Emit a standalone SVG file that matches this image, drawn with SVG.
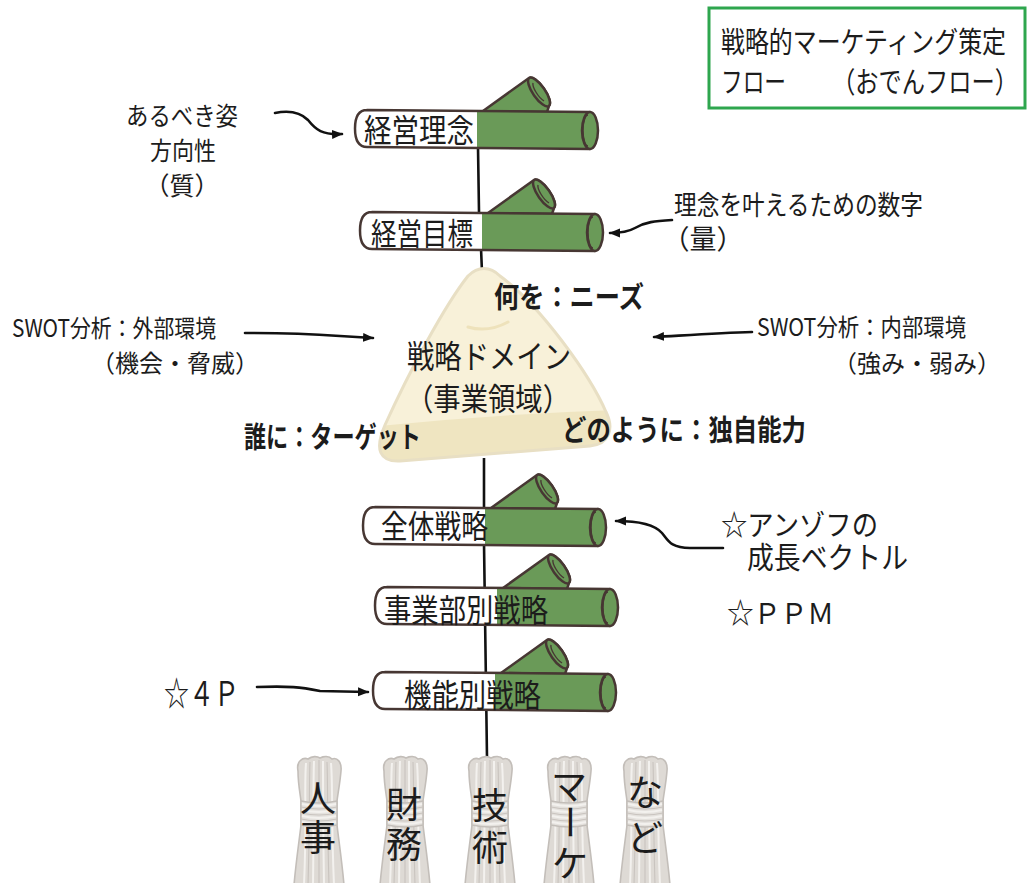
<svg xmlns="http://www.w3.org/2000/svg" width="1028" height="883" viewBox="0 0 1028 883">
  <style>
    .t { font-family: 'Noto Sans CJK JP', 'Noto Sans CJK SC', sans-serif; fill: #1c1c1c; }
    .b { font-weight: 700; }
    .ink { stroke: #473733; stroke-width: 2.5; stroke-linejoin: round; stroke-linecap: round; }
    .green { fill: #6a9a58; }
    .arrow { fill: none; stroke: #111; stroke-width: 2.6; stroke-linecap: round; marker-end: url(#ah); }
    .skewer { fill: none; stroke: #111; stroke-width: 2.6; }
    .rope { fill: #dedad5; stroke: #c3beb9; stroke-width: 1.6; }
    .strand { fill: none; stroke: #f3f1ee; stroke-width: 2; }
    .seam { fill: none; stroke: #c9c4bf; stroke-width: 1.1; }
  </style>
  <defs>
    <marker id="ah" markerWidth="12" markerHeight="10" refX="10" refY="5" orient="auto" markerUnits="userSpaceOnUse">
      <path d="M0,0.5 L11,5 L0,9.5 Z" fill="#111"/>
    </marker>

    <!-- skewered stick: white tip on the left, green body, short branch on top -->
    <g id="stick">
      <path class="green ink" d="M128,1 L174,-32 A6,17 -35 0 1 194,-4 L192,2 Z"/>
      <ellipse class="green ink" cx="184" cy="-18" rx="6" ry="17" transform="rotate(-35 184 -18)"/>
      <path d="M178,-27 A4,12 -35 0 0 189,-9" fill="none" stroke="#473733" stroke-width="1.4"/>
      <path d="M12,0 L235,2 L235,39 L12,37 C2,37 0,28 0,18.5 C0,9 2,0 12,0 Z" fill="#fff"/>
      <path class="green" d="M122,0.9 L235,2 L235,39 L122,38 Z"/>
      <path class="ink" fill="none" d="M12,0 L235,2 M235,39 L12,37 C2,37 0,28 0,18.5 C0,9 2,0 12,0"/>
      <ellipse class="green ink" cx="235" cy="20.5" rx="8" ry="18.5"/>
      <path d="M233,5 A5,15.5 0 0 0 233,36" fill="none" stroke="#473733" stroke-width="1.4"/>
    </g>

    <!-- bound straw bundle, origin at top centre -->
    <g id="bundle">
      <path class="rope" d="M-21,14 C-23,4 -16,0 -11,2 C-7,-1 -2,-1 1,1 C5,-1 10,-1 13,2 C18,0 23,5 22,14 C21,26 19,36 18,44 L18,68 C20,85 23,105 25,128 L-25,128 C-23,105 -20,85 -18,68 L-18,44 C-19,36 -21,26 -21,14 Z"/>
      <path class="strand" d="M-13,6 C-15,30 -12,60 -15,128 M-5,4 C-6,30 -5,60 -6,128 M4,4 C4,30 4,60 5,128 M12,6 C14,30 12,60 15,128"/>
      <path class="seam" d="M-9,5 C-10,30 -9,60 -11,128 M0,3 C0,30 0,60 0,128 M8,5 C9,30 8,60 10,128"/>
      <path d="M-18,44 Q0,48 18,44 L18,68 Q0,72 -18,68 Z" fill="#e4e1dd" stroke="#c3beb9" stroke-width="1.4"/>
      <path class="seam" d="M-18,50 Q0,54 18,50 M-18,56 Q0,60 18,56 M-18,62 Q0,66 18,62"/>
      <path class="strand" d="M-17,47 Q0,51 17,47 M-17,53 Q0,57 17,53 M-17,59 Q0,63 17,59 M-17,65 Q0,69 17,65"/>
    </g>

    <path id="rice" d="M468,276 C445,305 410,370 385,425 C374,450 380,462 400,461 L590,446 C610,444 614,428 606,412 C590,375 540,305 500,276 C490,266 478,266 468,276 Z"/>
    <clipPath id="riceClip">
      <use href="#rice"/>
    </clipPath>
  </defs>

  <rect width="1028" height="883" fill="#fff"/>

  <!-- title -->
  <g id="title">
    <rect x="709" y="8" width="316" height="100" fill="#fff" stroke="#2ea64e" stroke-width="3"/>
    <text class="t" x="721" y="53" font-size="29" textLength="285" lengthAdjust="spacingAndGlyphs">戦略的マーケティング策定</text>
    <text class="t" x="721" y="93" font-size="29" textLength="65" lengthAdjust="spacingAndGlyphs">フロー</text>
    <text class="t" x="925" y="93" font-size="29" text-anchor="middle" textLength="186" lengthAdjust="spacingAndGlyphs">（おでんフロー）</text>
  </g>

  <!-- connectors: skewer and label arrows -->
  <g id="connectors">
    <path class="skewer" d="M478,147 L479,212 M481,248 L482,272 M484,458 L484,507 M484,543 L487,758"/>
    <path class="arrow" d="M275,113 C290,110 300,112 308,120 C316,130 322,135 342,134"/>
    <path class="arrow" d="M672,220 C655,221 645,222 635,228 C628,232 620,233 610,233"/>
    <path class="arrow" d="M245,333 C280,333 310,334 340,336 L373,338"/>
    <path class="arrow" d="M752,332 C720,333 690,335 654,337"/>
    <path class="arrow" d="M723,548 L690,548 C670,548 668,540 662,533 C655,525 640,521 616,521"/>
    <path class="arrow" d="M257,687 C290,686 300,687 320,691 L368,692"/>
  </g>

  <!-- sticks -->
  <g id="keiei-rinen">
    <use href="#stick" transform="translate(355,110)"/>
    <text class="t" x="364" y="142" font-size="32" textLength="110" lengthAdjust="spacingAndGlyphs">経営理念</text>
  </g>
  <g id="keiei-mokuhyo">
    <use href="#stick" transform="translate(360,212)"/>
    <text class="t" x="371" y="245" font-size="31" textLength="102" lengthAdjust="spacingAndGlyphs">経営目標</text>
  </g>

  <!-- strategic domain (rice ball) -->
  <g id="domain">
    <use href="#rice" fill="#f8f1d9"/>
    <path d="M360,428 Q490,414 620,410 L620,470 L360,470 Z" fill="#efe5c1" clip-path="url(#riceClip)"/>
    <use href="#rice" fill="none" stroke="#e8dfc4" stroke-width="3"/>
    <path d="M468,327 Q488,333 508,322" fill="none" stroke="#eee2bb" stroke-width="3" stroke-linecap="round"/>
    <text class="t b" x="494" y="308" font-size="29" textLength="150" lengthAdjust="spacingAndGlyphs">何を：ニーズ</text>
    <text class="t" x="407" y="368" font-size="32" textLength="164" lengthAdjust="spacingAndGlyphs">戦略ドメイン</text>
    <text class="t" x="488" y="410" font-size="31" text-anchor="middle" textLength="164" lengthAdjust="spacingAndGlyphs">（事業領域）</text>
    <text class="t b" x="244" y="448" font-size="29" textLength="177" lengthAdjust="spacingAndGlyphs">誰に：ターゲット</text>
    <text class="t b" x="562" y="441" font-size="29" textLength="244" lengthAdjust="spacingAndGlyphs">どのように：独自能力</text>
  </g>

  <g id="zentai-senryaku">
    <use href="#stick" transform="translate(363,507)"/>
    <text class="t" x="381" y="538" font-size="32" textLength="107" lengthAdjust="spacingAndGlyphs">全体戦略</text>
  </g>
  <g id="jigyobu-senryaku">
    <use href="#stick" transform="translate(375,587)"/>
    <text class="t" x="384" y="622" font-size="32" textLength="164" lengthAdjust="spacingAndGlyphs">事業部別戦略</text>
  </g>
  <g id="kinobetsu-senryaku">
    <use href="#stick" transform="translate(373,672)"/>
    <text class="t" x="404" y="707" font-size="32" textLength="137" lengthAdjust="spacingAndGlyphs">機能別戦略</text>
  </g>

  <!-- side labels -->
  <g id="label-rinen">
    <text class="t" x="182" y="125" font-size="25" text-anchor="middle" textLength="112" lengthAdjust="spacingAndGlyphs">あるべき姿</text>
    <text class="t" x="183" y="160" font-size="25" text-anchor="middle" textLength="66" lengthAdjust="spacingAndGlyphs">方向性</text>
    <text class="t" x="182" y="195" font-size="25" text-anchor="middle">（質）</text>
  </g>
  <g id="label-mokuhyo">
    <text class="t" x="674" y="215" font-size="27" textLength="249" lengthAdjust="spacingAndGlyphs">理念を叶えるための数字</text>
    <text class="t" x="703" y="249" font-size="27" text-anchor="middle">（量）</text>
  </g>
  <g id="label-gaibu">
    <text class="t" x="12" y="337" font-size="24" textLength="204" lengthAdjust="spacingAndGlyphs">SWOT分析：外部環境</text>
    <text class="t" x="175" y="372" font-size="24" text-anchor="middle">（機会・脅威）</text>
  </g>
  <g id="label-naibu">
    <text class="t" x="757" y="336" font-size="24" textLength="209" lengthAdjust="spacingAndGlyphs">SWOT分析：内部環境</text>
    <text class="t" x="917" y="372" font-size="24" text-anchor="middle">（強み・弱み）</text>
  </g>
  <g id="label-ansoff">
    <text class="t" x="721" y="536" font-size="29" textLength="157" lengthAdjust="spacingAndGlyphs">☆アンゾフの</text>
    <text class="t" x="747" y="568" font-size="30" textLength="161" lengthAdjust="spacingAndGlyphs">成長ベクトル</text>
  </g>
  <g id="label-ppm">
    <text class="t" x="727" y="624" font-size="29" textLength="107" lengthAdjust="spacingAndGlyphs">☆ＰＰＭ</text>
  </g>
  <g id="label-4p">
    <text class="t" x="164" y="706" font-size="34" textLength="75" lengthAdjust="spacingAndGlyphs">☆４Ｐ</text>
  </g>

  <!-- resource bundles -->
  <g id="jinji">
    <use href="#bundle" transform="translate(319,757)"/>
    <text class="t" x="318" y="812" font-size="36" text-anchor="middle">人</text>
    <text class="t" x="318" y="851" font-size="36" text-anchor="middle">事</text>
  </g>
  <g id="zaimu">
    <use href="#bundle" transform="translate(405,757)"/>
    <text class="t" x="404" y="818" font-size="36" text-anchor="middle">財</text>
    <text class="t" x="404" y="858" font-size="36" text-anchor="middle">務</text>
  </g>
  <g id="gijutsu">
    <use href="#bundle" transform="translate(490,757)"/>
    <text class="t" x="490" y="819" font-size="36" text-anchor="middle">技</text>
    <text class="t" x="490" y="861" font-size="36" text-anchor="middle">術</text>
  </g>
  <g id="marke">
    <use href="#bundle" transform="translate(569,757)"/>
    <text class="t" x="569" y="800" font-size="36" text-anchor="middle">マ</text>
    <text class="t" x="569" y="835" font-size="36" text-anchor="middle" transform="rotate(90 569 822)">ー</text>
    <text class="t" x="570" y="877" font-size="36" text-anchor="middle">ケ</text>
  </g>
  <g id="nado">
    <use href="#bundle" transform="translate(645,757)"/>
    <text class="t" x="645" y="806" font-size="36" text-anchor="middle">な</text>
    <text class="t" x="645" y="851" font-size="36" text-anchor="middle">ど</text>
  </g>
</svg>
